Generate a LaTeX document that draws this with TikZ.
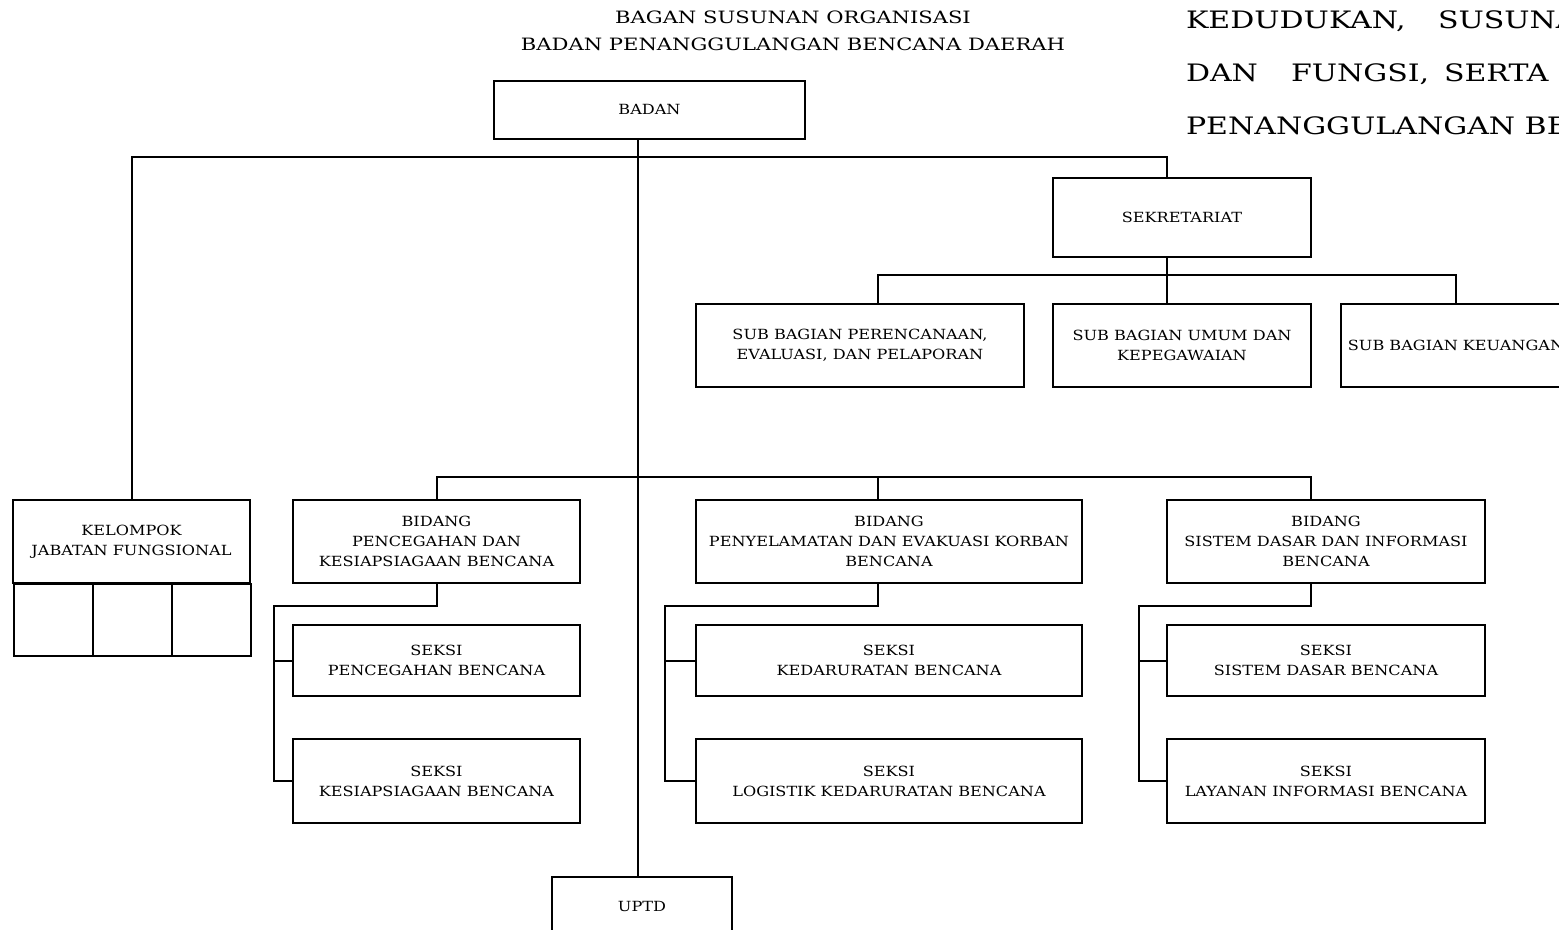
\documentclass[tikz,border=0pt]{standalone}
\usepackage{fontspec}
\setmainfont{DejaVu Serif}[FakeStretch=1.15]
\newfontfamily\titlefont{DejaVu Serif}[FakeStretch=1.24]
\newfontfamily\headfont{DejaVu Serif}[FakeStretch=1.25]
\usetikzlibrary{positioning}

\begin{document}
\begin{tikzpicture}[x=0.5pt, y=-0.5pt, line width=1pt,
  box/.style={draw, rectangle, line width=1pt, align=center, inner sep=2pt, font=\fontsize{7}{10}\selectfont},
  fncell/.style={draw, rectangle, line width=1pt, minimum width=39.5pt, minimum height=36pt, anchor=north west}]
  \useasboundingbox (0,0) rectangle (1559,930);
  \clip (0,0) rectangle (1559,930);

  % Title
  \node[align=center, font=\titlefont\fontsize{8.5}{13.5}\selectfont] (title) at (793,30.5) {
    BAGAN SUSUNAN ORGANISASI\\
    BADAN PENANGGULANGAN BENCANA DAERAH
  };
  % Heading text on the right, cut by the page edge
  \node[anchor=north west, align=left, inner sep=0pt, font=\headfont\fontsize{12}{26.5}\selectfont] (heading) at (1185,10) {
    \makebox[126pt][l]{KEDUDUKAN,}SUSUNAN\\
    \makebox[52.5pt][l]{DAN}\makebox[76.5pt][l]{FUNGSI,}SERTA\\
    PENANGGULANGAN BENCANA
  };

  % Head of the agency
  \node[box, minimum width=155.5pt, minimum height=29pt] (badan) at (649.5,110) {BADAN};
  % Secretariat and its sub sections
  \node[box, minimum width=129pt, minimum height=39.5pt] (sekretariat) at (1182,217.5) {SEKRETARIAT};
  \node[box, minimum width=164pt, minimum height=41.5pt] (subrenc) at (860,345.5) {
    SUB BAGIAN PERENCANAAN,\\
    EVALUASI, DAN PELAPORAN
  };
  \node[box, minimum width=129pt, minimum height=41.5pt] (subumum) at (1182,345.5) {
    SUB BAGIAN UMUM DAN\\
    KEPEGAWAIAN
  };
  \node[box, minimum width=115pt, minimum height=41.5pt] (subkeu) at (1456,345.5) {SUB BAGIAN KEUANGAN};

  % Functional group with three empty cells
  \node[box, minimum width=118.5pt, minimum height=41.5pt] (kelompok) at (131.5,541.5) {
    KELOMPOK\\
    JABATAN FUNGSIONAL
  };
  \foreach \i in {1,2,3}
    \node[fncell] (cell\i) at ({13+79*(\i-1)},583) {};

  % Bidang
  \node[box, minimum width=143.5pt, minimum height=41.5pt] (bidcegah) at (436.5,541.5) {
    BIDANG\\
    PENCEGAHAN DAN\\
    KESIAPSIAGAAN BENCANA
  };
  \node[box, minimum width=193pt, minimum height=41.5pt] (bidselamat) at (889,541.5) {
    BIDANG\\
    PENYELAMATAN DAN EVAKUASI KORBAN\\
    BENCANA
  };
  \node[box, minimum width=159pt, minimum height=41.5pt] (bidsistem) at (1326,541.5) {
    BIDANG\\
    SISTEM DASAR DAN INFORMASI\\
    BENCANA
  };

  % Seksi
  \node[box, minimum width=143.5pt, minimum height=35.5pt] (skcegah) at (436.5,660.5) {SEKSI\\PENCEGAHAN BENCANA};
  \node[box, minimum width=143.5pt, minimum height=42pt] (sksiaga) at (436.5,781) {SEKSI\\KESIAPSIAGAAN BENCANA};
  \node[box, minimum width=193pt, minimum height=35.5pt] (skdarurat) at (889,660.5) {SEKSI\\KEDARURATAN BENCANA};
  \node[box, minimum width=193pt, minimum height=42pt] (sklogistik) at (889,781) {SEKSI\\LOGISTIK KEDARURATAN BENCANA};
  \node[box, minimum width=159pt, minimum height=35.5pt] (sksistem) at (1326,660.5) {SEKSI\\SISTEM DASAR BENCANA};
  \node[box, minimum width=159pt, minimum height=42pt] (sklayanan) at (1326,781) {SEKSI\\LAYANAN INFORMASI BENCANA};

  % UPTD
  \node[box, minimum width=90pt, minimum height=29pt] (uptd) at (642,906) {UPTD};

  % Lines
  \draw ([xshift=-2pt]uptd.north) -- ([xshift=-2pt]uptd.north |- badan.south);
  \draw (kelompok.north) -- ++(0,-342) -| ([xshift=-7.5pt]sekretariat.north);
  \draw ([xshift=-7.5pt]sekretariat.south) -- ([xshift=-7.5pt]subumum.north);
  \draw ([xshift=9pt]subrenc.north) -- ++(0,-28) -| (subkeu.north);
  \draw (bidcegah.north) -- ++(0,-22) -| ([xshift=-7.5pt]bidsistem.north);
  \draw ([xshift=-5.5pt]bidselamat.north) -- ++(0,-22);
  \foreach \bid/\shift/\upper/\lower/\gap in {bidcegah/0pt/skcegah/sksiaga/9pt, bidselamat/-5.5pt/skdarurat/sklogistik/15pt, bidsistem/-7.5pt/sksistem/sklayanan/13.5pt} {
    \draw ([xshift=\shift]\bid.south) -- ++(0,22) -| ([xshift=-\gap]\lower.west) -- (\lower.west);
    \draw (\upper.west) -- ++(-\gap,0pt);
  }
\end{tikzpicture}
\end{document}
